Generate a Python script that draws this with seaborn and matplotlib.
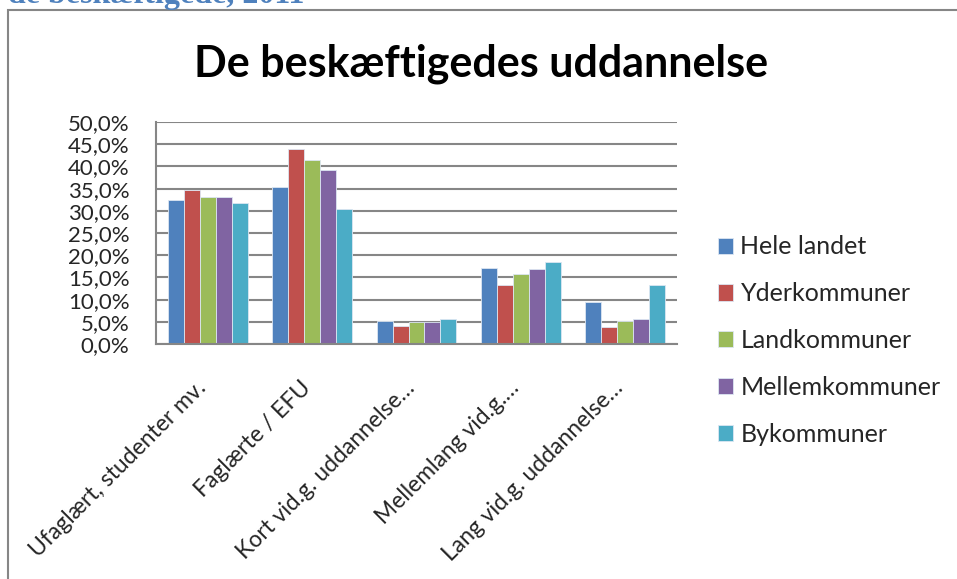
import numpy as np
import pandas as pd
import matplotlib
matplotlib.use("Agg")
import matplotlib.pyplot as plt
import matplotlib.ticker as mticker
import matplotlib.transforms as mtransforms
from matplotlib.patches import Rectangle
import seaborn as sns

# data (percent)
kategorier = ["Ufaglært, studenter mv.", "Faglærte / EFU", "Kort vid.g. uddannelse…",
              "Mellemlang vid.g.…", "Lang vid.g. uddannelse…"]
serier = ["Hele landet", "Yderkommuner", "Landkommuner", "Mellemkommuner", "Bykommuner"]
hele_landet = [32.4, 35.4, 5.2, 17.2, 9.5]
yderkommuner = [34.7, 43.9, 4.1, 13.4, 3.8]
landkommuner = [33.0, 41.4, 5.0, 15.7, 5.1]
mellemkommuner = [33.0, 39.3, 5.0, 16.9, 5.7]
bykommuner = [31.7, 30.4, 5.6, 18.5, 13.4]
farver = ["#4F81BD", "#C0504D", "#9BBB59", "#8064A2", "#4BACC6"]

rows = []
for navn, vals in zip(serier, [hele_landet, yderkommuner, landkommuner, mellemkommuner, bykommuner]):
    for kat, v in zip(kategorier, vals):
        rows.append({"kategori": kat, "serie": navn, "andel": v})
df = pd.DataFrame(rows)

sns.set_style("white")
plt.rcParams["font.family"] = ["Lato", "DejaVu Sans"]

fig = plt.figure(figsize=(9.57, 5.79), dpi=100)
W, H = 957, 579
ax = fig.add_axes([156 / W, 1 - 344 / H, (677 - 156) / W, (344 - 122) / H])

sns.barplot(data=df, x="kategori", y="andel", hue="serie", palette=farver, saturation=1,
            width=0.765, gap=0, ax=ax, edgecolor="#dce6f2", linewidth=0.6, legend=True)

ax.set_ylim(0, 50)
ax.set_xlim(-0.5, 4.5)
ax.yaxis.set_major_locator(mticker.MultipleLocator(5))
ax.yaxis.set_major_formatter(mticker.FuncFormatter(lambda v, p: f"{v:.1f}%".replace(".", ",")))
ax.grid(axis="y", color="#868686", linewidth=1.5)
ax.set_axisbelow(True)
for s in ["top", "right"]:
    ax.spines[s].set_visible(False)
for s in ["left", "bottom"]:
    ax.spines[s].set_color("#868686")
    ax.spines[s].set_linewidth(1.5)
ax.set_xlabel("")
ax.set_ylabel("")
ax.tick_params(axis="y", labelsize=16, length=0, pad=19)
ax.tick_params(axis="x", labelsize=16.5, length=0, pad=14)
skift = mtransforms.ScaledTranslation(-5 / 100, -21 / 100, fig.dpi_scale_trans)
for lbl in ax.get_xticklabels():
    lbl.set_rotation(45)
    lbl.set_ha("right")
    lbl.set_va("center")
    lbl.set_rotation_mode("anchor")
    lbl.set_transform(lbl.get_transform() + skift)

leg = ax.legend(loc="upper left", bbox_to_anchor=(695 / W, 1 - 213 / H), bbox_transform=fig.transFigure,
                frameon=False, fontsize=18, labelspacing=0.95, handlelength=0.62, handleheight=0.62,
                handletextpad=0.3)

fig.text(481 / W, 1 - 64 / H, "De beskæftigedes uddannelse", ha="center", va="center",
         fontsize=31, fontweight="bold", color="black")

# cut-off heading from the document above the chart
fig.text(8 / W, 1 - 3 / H, "de beskæftigede, 2011", ha="left", va="baseline",
         fontsize=23, fontweight="bold", color="#4F81BD", family="Liberation Serif")

# chart area border
fig.patches.append(Rectangle((8 / W, -0.1), 1.2, 1 - 10 / H + 0.1, transform=fig.transFigure,
                             fill=False, edgecolor="#868686", linewidth=1.5))

fig.savefig("out.png", dpi=100)
